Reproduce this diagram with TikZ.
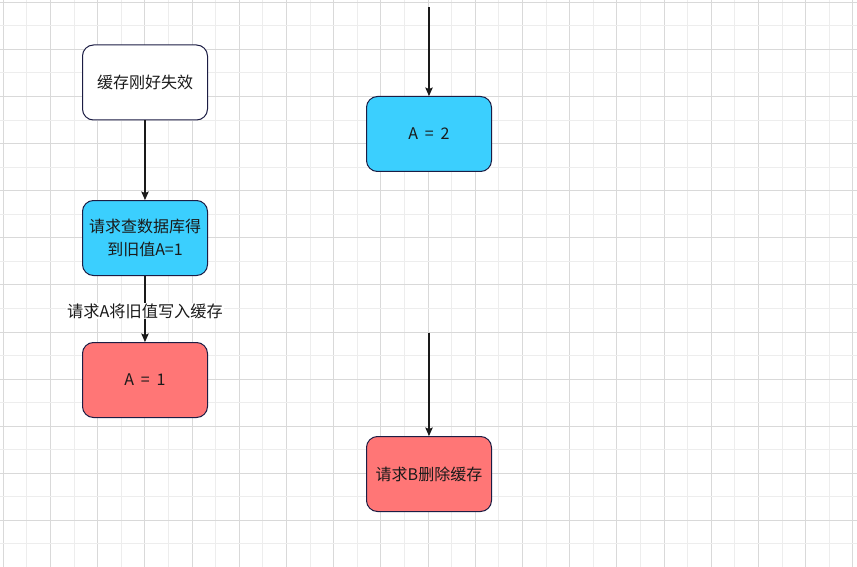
\documentclass[tikz,border=0pt]{standalone}
\usepackage{fontspec}
\setmainfont[WordSpace=1.9]{Noto Sans CJK SC}
\usetikzlibrary{arrows.meta}
\definecolor{cachesky}{HTML}{3BCFFE}
\definecolor{cachered}{HTML}{FF7676}
\definecolor{cacheink}{HTML}{1C1D44}
\definecolor{cachetext}{HTML}{1A1A1A}
\definecolor{gridmaj}{HTML}{D9D9D9}
\definecolor{gridmin}{HTML}{EDEDED}
\tikzset{
  bx/.style={rounded corners=11pt, draw=cacheink, line width=1pt, minimum width=125pt, minimum height=75pt, align=center, inner sep=2pt, font=\fontsize{16}{23.4}\selectfont, text=cachetext},
  plain/.style={bx, fill=white},
  db/.style={bx, fill=cachesky},
  hot/.style={bx, fill=cachered},
  arr/.style={-{Stealth[length=8.5pt, width=7.5pt, inset=1.5pt]}, line width=1.2pt, color=cachetext},
  lbl/.style={fill=white, inner sep=1pt, font=\fontsize{16.2}{19}\selectfont, text=cachetext},
  gl/.style={line width=1pt},
}
\begin{document}
\begin{tikzpicture}[x=1pt, y=-1pt]
    \useasboundingbox (0,0) rectangle (857,567);
    \fill[white] (0,0) rectangle (857,567);
    % background grid, darker every second line
    \foreach \i in {0,...,36} {
      \pgfmathtruncatemacro{\odd}{mod(\i,2)}
      \ifnum\odd=0 \def\gc{gridmaj}\else \def\gc{gridmin}\fi
      \draw[gl, \gc] (3.3+23.6*\i,0) -- (3.3+23.6*\i,567);
    }
    \foreach \j in {0,...,24} {
      \pgfmathtruncatemacro{\odd}{mod(\j,2)}
      \ifnum\odd=0 \def\gc{gridmaj}\else \def\gc{gridmin}\fi
      \draw[gl, \gc] (0,2.3+23.55*\j) -- (857,2.3+23.55*\j);
    }

    % request A
    \node[plain] (miss) at (145,82.5) {缓存刚好失效};
    \node[db] (query) at (145,238) {请求查数据库得\\到旧值A=1};
    \node[hot] (aone) at (145,380) {A = 1};
    \draw[arr] (miss.south) -- (query.north);
    \draw[arr] (query.south) -- node[lbl, pos=0.53] {请求A将旧值写入缓存} (aone.north);

    % request B
    \coordinate (topB) at (429,7.3);
    \node[db] (atwo) at (429,134) {A = 2};
    \draw[arr] (topB) -- (atwo.north);
    \coordinate (midB) at (429,332.7);
    \node[hot] (del) at (429,474) {请求B删除缓存};
    \draw[arr] (midB) -- (del.north);
  \end{tikzpicture}
\end{document}
